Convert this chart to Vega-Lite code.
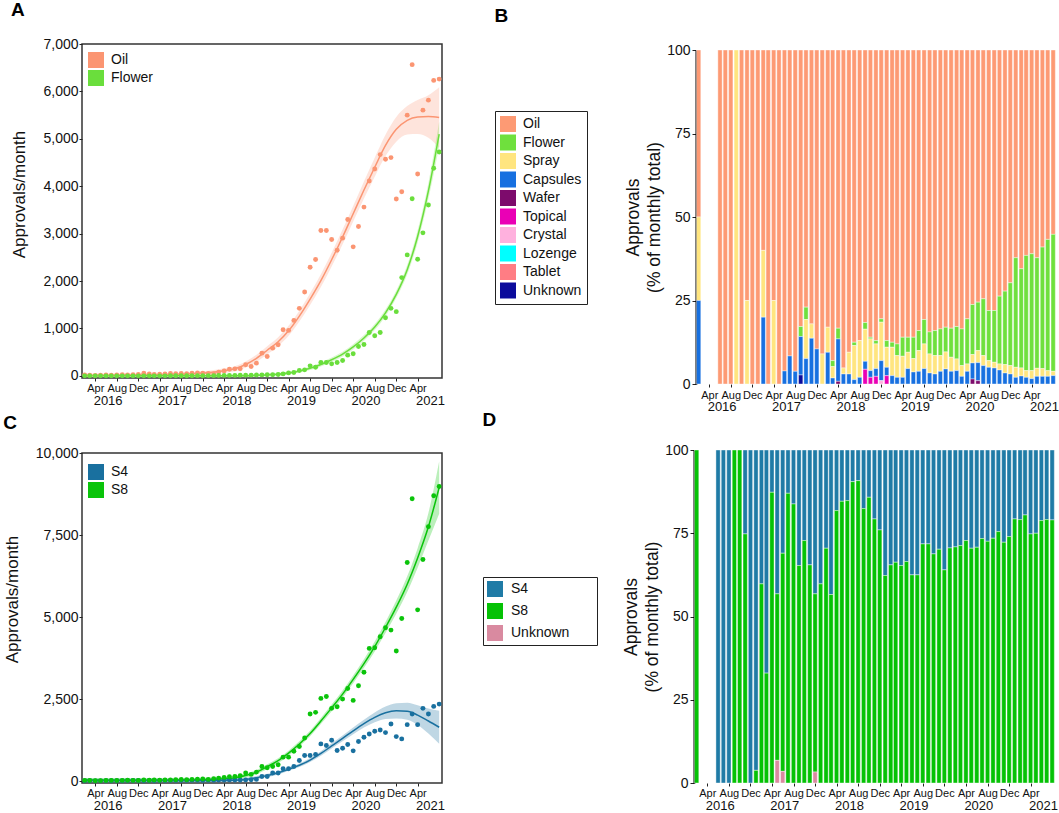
{
"$schema": "https://vega.github.io/schema/vega-lite/v6.json",
"padding": {"left": 2, "top": 0, "right": 0, "bottom": 0},
"config": {
 "font": "Liberation Sans",
 "view": {"stroke": null},
 "axis": {"labelColor": "#111", "titleColor": "#111", "tickColor": "#222", "domainColor": "#000", "grid": false, "titleFontWeight": "normal"},
 "title": {"fontSize": 19, "fontWeight": "bold", "anchor": "start", "frame": "bounds", "color": "#000"},
 "legend": {"labelFontSize": 14, "labelColor": "#111", "symbolType": "square", "symbolSize": 256, "symbolStrokeWidth": 0, "symbolOpacity": 1}
},
"spacing": -3,
"resolve": {"scale": {"color": "independent"}, "legend": {"color": "independent"}},
"datasets": {
"ts": [
{"d":"2016/02/01","Oil":20,"Flower":0,"S4":10,"S8":20},
{"d":"2016/03/01","Oil":15,"Flower":0,"S4":10,"S8":15},
{"d":"2016/04/01","Oil":10,"Flower":0,"S4":5,"S8":10},
{"d":"2016/05/01","Oil":12,"Flower":0,"S4":5,"S8":12},
{"d":"2016/06/01","Oil":18,"Flower":0,"S4":10,"S8":15},
{"d":"2016/07/01","Oil":15,"Flower":0,"S4":10,"S8":20},
{"d":"2016/08/01","Oil":20,"Flower":0,"S4":10,"S8":15},
{"d":"2016/09/01","Oil":22,"Flower":0,"S4":10,"S8":20},
{"d":"2016/10/01","Oil":20,"Flower":0,"S4":15,"S8":25},
{"d":"2016/11/01","Oil":25,"Flower":0,"S4":15,"S8":20},
{"d":"2016/12/01","Oil":30,"Flower":0,"S4":15,"S8":20},
{"d":"2017/01/01","Oil":55,"Flower":0,"S4":10,"S8":30},
{"d":"2017/02/01","Oil":40,"Flower":0,"S4":15,"S8":25},
{"d":"2017/03/01","Oil":30,"Flower":0,"S4":10,"S8":30},
{"d":"2017/04/01","Oil":35,"Flower":0,"S4":15,"S8":25},
{"d":"2017/05/01","Oil":40,"Flower":0,"S4":15,"S8":30},
{"d":"2017/06/01","Oil":50,"Flower":2,"S4":20,"S8":35},
{"d":"2017/07/01","Oil":45,"Flower":2,"S4":20,"S8":40},
{"d":"2017/08/01","Oil":50,"Flower":3,"S4":20,"S8":45},
{"d":"2017/09/01","Oil":45,"Flower":3,"S4":20,"S8":40},
{"d":"2017/10/01","Oil":55,"Flower":3,"S4":25,"S8":50},
{"d":"2017/11/01","Oil":60,"Flower":5,"S4":25,"S8":55},
{"d":"2017/12/01","Oil":55,"Flower":4,"S4":20,"S8":60},
{"d":"2018/01/01","Oil":50,"Flower":5,"S4":25,"S8":50},
{"d":"2018/02/01","Oil":42,"Flower":5,"S4":25,"S8":70},
{"d":"2018/03/01","Oil":79,"Flower":8,"S4":30,"S8":90},
{"d":"2018/04/01","Oil":105,"Flower":10,"S4":30,"S8":110},
{"d":"2018/05/01","Oil":141,"Flower":10,"S4":35,"S8":130},
{"d":"2018/06/01","Oil":148,"Flower":10,"S4":30,"S8":140},
{"d":"2018/07/01","Oil":148,"Flower":12,"S4":30,"S8":161},
{"d":"2018/08/01","Oil":233,"Flower":15,"S4":35,"S8":243},
{"d":"2018/09/01","Oil":197,"Flower":15,"S4":40,"S8":202},
{"d":"2018/10/01","Oil":268,"Flower":18,"S4":50,"S8":273},
{"d":"2018/11/01","Oil":479,"Flower":20,"S4":140,"S8":444},
{"d":"2018/12/01","Oil":409,"Flower":22,"S4":140,"S8":403},
{"d":"2019/01/01","Oil":585,"Flower":25,"S4":243,"S8":444},
{"d":"2019/02/01","Oil":656,"Flower":30,"S4":243,"S8":495},
{"d":"2019/03/01","Oil":973,"Flower":42,"S4":374,"S8":728},
{"d":"2019/04/01","Oil":959,"Flower":63,"S4":374,"S8":728},
{"d":"2019/05/01","Oil":1170,"Flower":71,"S4":444,"S8":910},
{"d":"2019/06/01","Oil":1424,"Flower":113,"S4":626,"S8":1051},
{"d":"2019/07/01","Oil":1770,"Flower":127,"S4":778,"S8":1314},
{"d":"2019/08/01","Oil":2291,"Flower":211,"S4":778,"S8":2043},
{"d":"2019/09/01","Oil":2453,"Flower":183,"S4":808,"S8":2094},
{"d":"2019/10/01","Oil":3067,"Flower":282,"S4":1132,"S8":2519},
{"d":"2019/11/01","Oil":3067,"Flower":282,"S4":1081,"S8":2579},
{"d":"2019/12/01","Oil":2876,"Flower":254,"S4":1243,"S8":2215},
{"d":"2020/01/01","Oil":2651,"Flower":282,"S4":930,"S8":2265},
{"d":"2020/02/01","Oil":2905,"Flower":324,"S4":1001,"S8":2498},
{"d":"2020/03/01","Oil":3299,"Flower":437,"S4":1112,"S8":2822},
{"d":"2020/04/01","Oil":2721,"Flower":465,"S4":920,"S8":2458},
{"d":"2020/05/01","Oil":3151,"Flower":620,"S4":1203,"S8":2903},
{"d":"2020/06/01","Oil":3560,"Flower":662,"S4":1335,"S8":3317},
{"d":"2020/07/01","Oil":4110,"Flower":916,"S4":1436,"S8":4044},
{"d":"2020/08/01","Oil":4364,"Flower":846,"S4":1517,"S8":4065},
{"d":"2020/09/01","Oil":4667,"Flower":916,"S4":1557,"S8":4399},
{"d":"2020/10/01","Oil":4568,"Flower":1227,"S4":1476,"S8":4672},
{"d":"2020/11/01","Oil":4604,"Flower":1424,"S4":1739,"S8":4601},
{"d":"2020/12/01","Oil":3730,"Flower":1354,"S4":1355,"S8":3963},
{"d":"2021/01/01","Oil":3885,"Flower":2073,"S4":1284,"S8":4955},
{"d":"2021/02/01","Oil":5499,"Flower":2552,"S4":1719,"S8":6664},
{"d":"2021/03/01","Oil":6564,"Flower":3737,"S4":2043,"S8":8605},
{"d":"2021/04/01","Oil":4258,"Flower":2461,"S4":1719,"S8":5219},
{"d":"2021/05/01","Oil":5605,"Flower":3017,"S4":2215,"S8":6755},
{"d":"2021/06/01","Oil":5816,"Flower":3603,"S4":2043,"S8":7755},
{"d":"2021/07/01","Oil":6232,"Flower":4378,"S4":2275,"S8":8696},
{"d":"2021/08/01","Oil":6260,"Flower":4723,"S4":2346,"S8":8981}
],
"fit": [
{"d":"2016/02/01","s":"Oil","f":15,"lo":-15,"hi":45},
{"d":"2016/04/01","s":"Oil","f":15,"lo":-15,"hi":45},
{"d":"2016/06/01","s":"Oil","f":15,"lo":-15,"hi":45},
{"d":"2016/08/01","s":"Oil","f":15,"lo":-15,"hi":45},
{"d":"2016/10/01","s":"Oil","f":18,"lo":-12,"hi":48},
{"d":"2016/12/01","s":"Oil","f":20,"lo":-10,"hi":50},
{"d":"2017/02/01","s":"Oil","f":22,"lo":-8,"hi":52},
{"d":"2017/04/01","s":"Oil","f":25,"lo":-5,"hi":55},
{"d":"2017/06/01","s":"Oil","f":30,"lo":0,"hi":60},
{"d":"2017/08/01","s":"Oil","f":35,"lo":5,"hi":65},
{"d":"2017/10/01","s":"Oil","f":45,"lo":10,"hi":80},
{"d":"2017/12/01","s":"Oil","f":60,"lo":20,"hi":100},
{"d":"2018/02/01","s":"Oil","f":80,"lo":35,"hi":125},
{"d":"2018/04/01","s":"Oil","f":110,"lo":60,"hi":160},
{"d":"2018/06/01","s":"Oil","f":150,"lo":95,"hi":205},
{"d":"2018/08/01","s":"Oil","f":240,"lo":175,"hi":305},
{"d":"2018/10/01","s":"Oil","f":370,"lo":295,"hi":445},
{"d":"2018/12/01","s":"Oil","f":540,"lo":455,"hi":625},
{"d":"2019/02/01","s":"Oil","f":720,"lo":625,"hi":815},
{"d":"2019/04/01","s":"Oil","f":950,"lo":845,"hi":1055},
{"d":"2019/06/01","s":"Oil","f":1260,"lo":1145,"hi":1375},
{"d":"2019/08/01","s":"Oil","f":1620,"lo":1495,"hi":1745},
{"d":"2019/10/01","s":"Oil","f":2010,"lo":1875,"hi":2145},
{"d":"2019/12/01","s":"Oil","f":2450,"lo":2305,"hi":2595},
{"d":"2020/02/01","s":"Oil","f":2930,"lo":2775,"hi":3085},
{"d":"2020/04/01","s":"Oil","f":3420,"lo":3255,"hi":3585},
{"d":"2020/06/01","s":"Oil","f":3920,"lo":3740,"hi":4100},
{"d":"2020/08/01","s":"Oil","f":4400,"lo":4200,"hi":4600},
{"d":"2020/10/01","s":"Oil","f":4860,"lo":4635,"hi":5085},
{"d":"2020/12/01","s":"Oil","f":5200,"lo":4940,"hi":5460},
{"d":"2021/02/01","s":"Oil","f":5390,"lo":5090,"hi":5690},
{"d":"2021/04/01","s":"Oil","f":5460,"lo":5100,"hi":5820},
{"d":"2021/06/01","s":"Oil","f":5470,"lo":5020,"hi":5920},
{"d":"2021/08/01","s":"Oil","f":5450,"lo":4810,"hi":6090},
{"d":"2016/02/01","s":"Flower","f":0,"lo":-30,"hi":30},
{"d":"2016/06/01","s":"Flower","f":0,"lo":-30,"hi":30},
{"d":"2016/10/01","s":"Flower","f":0,"lo":-30,"hi":30},
{"d":"2017/02/01","s":"Flower","f":0,"lo":-30,"hi":30},
{"d":"2017/06/01","s":"Flower","f":0,"lo":-30,"hi":30},
{"d":"2017/10/01","s":"Flower","f":0,"lo":-30,"hi":30},
{"d":"2018/02/01","s":"Flower","f":0,"lo":-30,"hi":30},
{"d":"2018/06/01","s":"Flower","f":1,"lo":-29,"hi":31},
{"d":"2018/08/01","s":"Flower","f":2,"lo":-28,"hi":32},
{"d":"2018/10/01","s":"Flower","f":10,"lo":-20,"hi":40},
{"d":"2018/12/01","s":"Flower","f":20,"lo":-10,"hi":50},
{"d":"2019/02/01","s":"Flower","f":35,"lo":5,"hi":65},
{"d":"2019/04/01","s":"Flower","f":60,"lo":30,"hi":90},
{"d":"2019/06/01","s":"Flower","f":100,"lo":70,"hi":130},
{"d":"2019/08/01","s":"Flower","f":160,"lo":125,"hi":195},
{"d":"2019/10/01","s":"Flower","f":240,"lo":200,"hi":280},
{"d":"2019/12/01","s":"Flower","f":340,"lo":295,"hi":385},
{"d":"2020/02/01","s":"Flower","f":460,"lo":410,"hi":510},
{"d":"2020/04/01","s":"Flower","f":610,"lo":555,"hi":665},
{"d":"2020/06/01","s":"Flower","f":800,"lo":740,"hi":860},
{"d":"2020/08/01","s":"Flower","f":1030,"lo":965,"hi":1095},
{"d":"2020/10/01","s":"Flower","f":1330,"lo":1260,"hi":1400},
{"d":"2020/12/01","s":"Flower","f":1720,"lo":1640,"hi":1800},
{"d":"2021/02/01","s":"Flower","f":2240,"lo":2140,"hi":2340},
{"d":"2021/04/01","s":"Flower","f":2940,"lo":2810,"hi":3070},
{"d":"2021/06/01","s":"Flower","f":3900,"lo":3730,"hi":4070},
{"d":"2021/08/01","s":"Flower","f":5100,"lo":4840,"hi":5360},
{"d":"2016/02/01","s":"S8","f":30,"lo":-30,"hi":90},
{"d":"2016/06/01","s":"S8","f":27,"lo":-33,"hi":87},
{"d":"2016/10/01","s":"S8","f":25,"lo":-35,"hi":85},
{"d":"2017/02/01","s":"S8","f":25,"lo":-35,"hi":85},
{"d":"2017/06/01","s":"S8","f":28,"lo":-32,"hi":88},
{"d":"2017/10/01","s":"S8","f":35,"lo":-25,"hi":95},
{"d":"2017/12/01","s":"S8","f":42,"lo":-18,"hi":102},
{"d":"2018/02/01","s":"S8","f":52,"lo":-8,"hi":112},
{"d":"2018/04/01","s":"S8","f":70,"lo":10,"hi":130},
{"d":"2018/06/01","s":"S8","f":100,"lo":40,"hi":160},
{"d":"2018/08/01","s":"S8","f":170,"lo":110,"hi":230},
{"d":"2018/10/01","s":"S8","f":270,"lo":205,"hi":335},
{"d":"2018/12/01","s":"S8","f":440,"lo":370,"hi":510},
{"d":"2019/02/01","s":"S8","f":620,"lo":548,"hi":692},
{"d":"2019/04/01","s":"S8","f":850,"lo":774,"hi":926},
{"d":"2019/06/01","s":"S8","f":1130,"lo":1050,"hi":1210},
{"d":"2019/08/01","s":"S8","f":1450,"lo":1365,"hi":1535},
{"d":"2019/10/01","s":"S8","f":1830,"lo":1740,"hi":1920},
{"d":"2019/12/01","s":"S8","f":2230,"lo":2130,"hi":2330},
{"d":"2020/02/01","s":"S8","f":2650,"lo":2540,"hi":2760},
{"d":"2020/04/01","s":"S8","f":3100,"lo":2980,"hi":3220},
{"d":"2020/06/01","s":"S8","f":3580,"lo":3450,"hi":3710},
{"d":"2020/08/01","s":"S8","f":4100,"lo":3950,"hi":4250},
{"d":"2020/10/01","s":"S8","f":4680,"lo":4510,"hi":4850},
{"d":"2020/12/01","s":"S8","f":5300,"lo":5100,"hi":5500},
{"d":"2021/02/01","s":"S8","f":6000,"lo":5760,"hi":6240},
{"d":"2021/04/01","s":"S8","f":6800,"lo":6500,"hi":7100},
{"d":"2021/06/01","s":"S8","f":7750,"lo":7330,"hi":8170},
{"d":"2021/08/01","s":"S8","f":8950,"lo":8150,"hi":9750},
{"d":"2016/02/01","s":"S4","f":20,"lo":-30,"hi":70},
{"d":"2016/10/01","s":"S4","f":20,"lo":-30,"hi":70},
{"d":"2017/06/01","s":"S4","f":20,"lo":-30,"hi":70},
{"d":"2018/02/01","s":"S4","f":20,"lo":-30,"hi":70},
{"d":"2018/04/01","s":"S4","f":20,"lo":-30,"hi":70},
{"d":"2018/06/01","s":"S4","f":25,"lo":-25,"hi":75},
{"d":"2018/08/01","s":"S4","f":50,"lo":0,"hi":100},
{"d":"2018/10/01","s":"S4","f":100,"lo":50,"hi":150},
{"d":"2018/12/01","s":"S4","f":170,"lo":120,"hi":220},
{"d":"2019/02/01","s":"S4","f":250,"lo":200,"hi":300},
{"d":"2019/04/01","s":"S4","f":360,"lo":310,"hi":410},
{"d":"2019/06/01","s":"S4","f":480,"lo":425,"hi":535},
{"d":"2019/08/01","s":"S4","f":640,"lo":578,"hi":702},
{"d":"2019/10/01","s":"S4","f":840,"lo":770,"hi":910},
{"d":"2019/12/01","s":"S4","f":1070,"lo":990,"hi":1150},
{"d":"2020/02/01","s":"S4","f":1300,"lo":1210,"hi":1390},
{"d":"2020/04/01","s":"S4","f":1530,"lo":1425,"hi":1635},
{"d":"2020/06/01","s":"S4","f":1750,"lo":1630,"hi":1870},
{"d":"2020/08/01","s":"S4","f":1940,"lo":1790,"hi":2090},
{"d":"2020/10/01","s":"S4","f":2080,"lo":1890,"hi":2270},
{"d":"2020/12/01","s":"S4","f":2140,"lo":1910,"hi":2370},
{"d":"2021/02/01","s":"S4","f":2130,"lo":1870,"hi":2390},
{"d":"2021/04/01","s":"S4","f":2010,"lo":1710,"hi":2310},
{"d":"2021/06/01","s":"S4","f":1830,"lo":1450,"hi":2210},
{"d":"2021/08/01","s":"S4","f":1640,"lo":1140,"hi":2140}
],
"pB": [
{"d":"2016/02/01","Capsules":25,"Spray":25,"Oil":50},
{"d":"2016/06/01","Oil":100},
{"d":"2016/07/01","Oil":100},
{"d":"2016/08/01","Oil":100},
{"d":"2016/09/01","Spray":100},
{"d":"2016/10/01","Oil":100},
{"d":"2016/11/01","Spray":25,"Oil":75},
{"d":"2016/12/01","Oil":100},
{"d":"2017/01/01","Oil":100},
{"d":"2017/02/01","Capsules":20,"Spray":20,"Oil":60},
{"d":"2017/03/01","Oil":100},
{"d":"2017/04/01","Spray":25,"Oil":75},
{"d":"2017/05/01","Oil":100},
{"d":"2017/06/01","Capsules":3.9,"Oil":96.1},
{"d":"2017/07/01","Capsules":8.4,"Oil":91.6},
{"d":"2017/08/01","Capsules":3.8,"Oil":96.2},
{"d":"2017/09/01","Unknown":2.7,"Capsules":11.5,"Flower":3,"Oil":82.8},
{"d":"2017/10/01","Capsules":7.6,"Spray":11.7,"Flower":3.7,"Oil":77},
{"d":"2017/11/01","Capsules":13.7,"Spray":4.3,"Oil":82},
{"d":"2017/12/01","Capsules":10.5,"Oil":89.5},
{"d":"2018/01/01","Spray":9,"Oil":91},
{"d":"2018/02/01","Capsules":9.5,"Spray":7.5,"Oil":83},
{"d":"2018/03/01","Capsules":1.8,"Spray":3.4,"Flower":1.8,"Oil":93},
{"d":"2018/04/01","Wafer":0.8,"Capsules":12.7,"Flower":3.2,"Oil":83.3},
{"d":"2018/05/01","Capsules":3,"Spray":1.8,"Oil":95.2},
{"d":"2018/06/01","Capsules":3,"Spray":6.5,"Oil":90.5},
{"d":"2018/07/01","Capsules":1.3,"Spray":10.2,"Flower":1,"Oil":87.5},
{"d":"2018/08/01","Capsules":2,"Spray":11,"Oil":87},
{"d":"2018/09/01","Topical":4.4,"Capsules":2.4,"Spray":9.6,"Flower":2,"Oil":81.6},
{"d":"2018/10/01","Topical":2,"Capsules":2,"Spray":9.5,"Flower":0.5,"Oil":86},
{"d":"2018/11/01","Topical":2.3,"Capsules":2.3,"Spray":7.4,"Flower":1,"Oil":87},
{"d":"2018/12/01","Crystal":1,"Capsules":6,"Spray":11.5,"Flower":1,"Oil":80.5},
{"d":"2019/01/01","Topical":2.5,"Capsules":2.5,"Spray":6,"Flower":2,"Oil":87},
{"d":"2019/02/01","Capsules":2.5,"Spray":8.5,"Flower":1.5,"Oil":87.5},
{"d":"2019/03/01","Capsules":2,"Spray":6.5,"Flower":3.5,"Oil":88},
{"d":"2019/04/01","Capsules":2,"Spray":6.3,"Flower":5.7,"Oil":86},
{"d":"2019/05/01","Capsules":4.6,"Spray":4.9,"Flower":4.5,"Oil":86},
{"d":"2019/06/01","Capsules":3.6,"Spray":4,"Flower":6.4,"Oil":86},
{"d":"2019/07/01","Capsules":3.8,"Spray":6.2,"Flower":6,"Oil":84},
{"d":"2019/08/01","Capsules":4.6,"Spray":7.4,"Flower":7.3,"Oil":80.7},
{"d":"2019/09/01","Capsules":3.3,"Spray":5.7,"Flower":6.6,"Oil":84.4},
{"d":"2019/10/01","Capsules":3,"Spray":5.5,"Flower":7.5,"Oil":84},
{"d":"2019/11/01","Capsules":3.8,"Spray":4.7,"Flower":8,"Oil":83.5},
{"d":"2019/12/01","Capsules":4.5,"Spray":5.1,"Flower":7.4,"Oil":83},
{"d":"2020/01/01","Capsules":3.8,"Spray":4.2,"Flower":8.7,"Oil":83.3},
{"d":"2020/02/01","Capsules":4,"Spray":3.5,"Flower":9.7,"Oil":82.8},
{"d":"2020/03/01","Capsules":2.3,"Spray":3.2,"Flower":11,"Oil":83.5},
{"d":"2020/04/01","Capsules":3.8,"Spray":2.2,"Flower":13.5,"Oil":80.5},
{"d":"2020/05/01","Wafer":1.5,"Capsules":4.8,"Spray":2.5,"Flower":15,"Oil":76.2},
{"d":"2020/06/01","Wafer":1,"Capsules":5.4,"Spray":3.6,"Flower":14.5,"Oil":75.5},
{"d":"2020/07/01","Capsules":5.5,"Spray":3,"Flower":17,"Oil":74.5},
{"d":"2020/08/01","Capsules":5,"Spray":2,"Flower":15,"Oil":78},
{"d":"2020/09/01","Capsules":4.8,"Spray":1.7,"Flower":15.5,"Oil":78},
{"d":"2020/10/01","Capsules":4.2,"Spray":1.8,"Flower":20.3,"Oil":73.7},
{"d":"2020/11/01","Capsules":3.3,"Spray":2.5,"Flower":22,"Oil":72.2},
{"d":"2020/12/01","Capsules":3,"Spray":2.5,"Flower":24.8,"Oil":69.7},
{"d":"2021/01/01","Capsules":2,"Spray":3,"Flower":32.8,"Oil":62.2},
{"d":"2021/02/01","Capsules":2.4,"Spray":2.4,"Flower":29.7,"Oil":65.5},
{"d":"2021/03/01","Capsules":2,"Spray":2,"Flower":34.5,"Oil":61.5},
{"d":"2021/04/01","Capsules":1.6,"Spray":2.4,"Flower":35,"Oil":61},
{"d":"2021/05/01","Capsules":2.3,"Spray":2.4,"Flower":33.1,"Oil":62.2},
{"d":"2021/06/01","Capsules":2.3,"Spray":2.3,"Flower":36.4,"Oil":59},
{"d":"2021/07/01","Capsules":2.3,"Spray":1.7,"Flower":39.3,"Oil":56.7},
{"d":"2021/08/01","Capsules":2.5,"Spray":1.3,"Flower":41,"Oil":55.2}
],
"pD": [
{"d":"2016/02/01","S8":100},
{"d":"2016/06/01","S4":100},
{"d":"2016/07/01","S4":100},
{"d":"2016/08/01","S4":100},
{"d":"2016/09/01","S8":100},
{"d":"2016/10/01","S8":100},
{"d":"2016/11/01","S8":74.8,"S4":25.2},
{"d":"2016/12/01","S4":100},
{"d":"2017/01/01","S8":3.8,"S4":96.2},
{"d":"2017/02/01","S8":59.8,"S4":40.2},
{"d":"2017/03/01","S8":33,"S4":67},
{"d":"2017/04/01","S8":87.3,"S4":12.7},
{"d":"2017/05/01","Unknown":6.8,"S8":50,"S4":43.2},
{"d":"2017/06/01","Unknown":3.5,"S8":65.5,"S4":31},
{"d":"2017/07/01","S8":87,"S4":13},
{"d":"2017/08/01","S8":83.8,"S4":16.2},
{"d":"2017/09/01","S8":65.3,"S4":34.7},
{"d":"2017/10/01","S8":72.8,"S4":27.2},
{"d":"2017/11/01","S8":65.5,"S4":34.5},
{"d":"2017/12/01","Unknown":3.3,"S8":53.5,"S4":43.2},
{"d":"2018/01/01","S8":59.8,"S4":40.2},
{"d":"2018/02/01","S8":70.5,"S4":29.5},
{"d":"2018/03/01","S8":56.6,"S4":43.4},
{"d":"2018/04/01","S8":81.8,"S4":18.2},
{"d":"2018/05/01","S8":84.6,"S4":15.4},
{"d":"2018/06/01","S8":84.8,"S4":15.2},
{"d":"2018/07/01","S8":90.5,"S4":9.5},
{"d":"2018/08/01","S8":90.8,"S4":9.2},
{"d":"2018/09/01","S8":82.4,"S4":17.6},
{"d":"2018/10/01","S8":85.8,"S4":14.2},
{"d":"2018/11/01","S8":79.3,"S4":20.7},
{"d":"2018/12/01","S8":76,"S4":24},
{"d":"2019/01/01","S8":62.3,"S4":37.7},
{"d":"2019/02/01","S8":65.5,"S4":34.5},
{"d":"2019/03/01","S8":66.3,"S4":33.7},
{"d":"2019/04/01","S8":65.3,"S4":34.7},
{"d":"2019/05/01","S8":66.5,"S4":33.5},
{"d":"2019/06/01","S8":62.5,"S4":37.5},
{"d":"2019/07/01","S8":62.5,"S4":37.5},
{"d":"2019/08/01","S8":71.8,"S4":28.2},
{"d":"2019/09/01","S8":71.8,"S4":28.2},
{"d":"2019/10/01","S8":68.8,"S4":31.2},
{"d":"2019/11/01","S8":70.2,"S4":29.8},
{"d":"2019/12/01","S8":64,"S4":36},
{"d":"2020/01/01","S8":70.6,"S4":29.4},
{"d":"2020/02/01","S8":70.9,"S4":29.1},
{"d":"2020/03/01","S8":71.3,"S4":28.7},
{"d":"2020/04/01","S8":72.8,"S4":27.2},
{"d":"2020/05/01","S8":70.5,"S4":29.5},
{"d":"2020/06/01","S8":70.8,"S4":29.2},
{"d":"2020/07/01","S8":73.4,"S4":26.6},
{"d":"2020/08/01","S8":72.6,"S4":27.4},
{"d":"2020/09/01","S8":73.5,"S4":26.5},
{"d":"2020/10/01","S8":75.5,"S4":24.5},
{"d":"2020/11/01","S8":72.3,"S4":27.7},
{"d":"2020/12/01","S8":74,"S4":26},
{"d":"2021/01/01","S8":79.3,"S4":20.7},
{"d":"2021/02/01","S8":79.1,"S4":20.9},
{"d":"2021/03/01","S8":80.5,"S4":19.5},
{"d":"2021/04/01","S8":74.8,"S4":25.2},
{"d":"2021/05/01","S8":75,"S4":25},
{"d":"2021/06/01","S8":78.8,"S4":21.2},
{"d":"2021/07/01","S8":79.1,"S4":20.9},
{"d":"2021/08/01","S8":79,"S4":21}
]
},
"vconcat": [
{"hconcat": [
 {
  "width": 360, "height": 334,
  "title": {"text": "A", "offset": 17},
  "view": {"stroke": "#333", "strokeWidth": 1.5},
  "layer": [
   {"data": {"name": "fit"}, "transform": [{"filter": {"field": "s", "oneOf": ["Oil", "Flower"]}}],
    "mark": {"type": "area", "opacity": 0.25, "interpolate": "monotone", "clip": true},
    "encoding": {
     "x": {"field": "d", "type": "temporal", "scale": {"domain": [{"year": 2016, "month": 1, "date": 17}, {"year": 2021, "month": 8, "date": 17}], "nice": false, "padding": 0},
       "axis": {"values": [{"year":2016,"month":4,"date":1},{"year":2016,"month":8,"date":1},{"year":2016,"month":12,"date":1},{"year":2017,"month":4,"date":1},{"year":2017,"month":8,"date":1},{"year":2017,"month":12,"date":1},{"year":2018,"month":4,"date":1},{"year":2018,"month":8,"date":1},{"year":2018,"month":12,"date":1},{"year":2019,"month":4,"date":1},{"year":2019,"month":8,"date":1},{"year":2019,"month":12,"date":1},{"year":2020,"month":4,"date":1},{"year":2020,"month":8,"date":1},{"year":2020,"month":12,"date":1},{"year":2021,"month":4,"date":1}], "format": "%b", "labelFontSize": 11, "tickSize": 3, "labelPadding": 1.5, "domain": false, "title": null, "labelOverlap": false, "labelFlush": false}},
     "y": {"field": "lo", "type": "quantitative", "scale": {"domain": [-45, 7000], "nice": false},
       "axis": {"values": [0,1000,2000,3000,4000,5000,6000,7000], "format": ",d", "title": "Approvals/month", "titleFontSize": 17, "labelFontSize": 14, "tickSize": 3, "labelPadding": 1, "titlePadding": 14, "domain": false, "titleY": 150}},
     "y2": {"field": "hi"},
     "color": {"field": "s", "type": "nominal", "scale": {"domain": ["Oil", "Flower"], "range": ["#fb9572", "#6ade3c"]},
       "legend": {"orient": "none", "legendX": 6, "legendY": 8, "title": null, "padding": 0, "rowPadding": 2, "labelOffset": 7}}
    }},
   {"data": {"name": "fit"}, "transform": [{"filter": {"field": "s", "oneOf": ["Oil", "Flower"]}}],
    "mark": {"type": "line", "strokeWidth": 1.5, "interpolate": "monotone", "clip": true},
    "encoding": {"x": {"field": "d", "type": "temporal", "axis": null}, "y": {"field": "f", "type": "quantitative"}, "color": {"field": "s", "type": "nominal"}}},
   {"data": {"name": "ts"}, "transform": [{"fold": ["Oil", "Flower"], "as": ["s", "v"]}],
    "mark": {"type": "circle", "size": 24, "opacity": 1},
    "encoding": {"x": {"field": "d", "type": "temporal", "axis": null}, "y": {"field": "v", "type": "quantitative"}, "color": {"field": "s", "type": "nominal"}}},
   {"data": {"name": "ts"},
    "mark": {"type": "point", "opacity": 0},
    "encoding": {"x": {"field": "d", "type": "temporal",
      "axis": {"orient": "bottom", "values": [{"year":2016,"month":6,"date":10},{"year":2017,"month":6,"date":10},{"year":2018,"month":6,"date":10},{"year":2019,"month":6,"date":10},{"year":2020,"month":6,"date":10},{"year":2021,"month":6,"date":10}], "format": "%Y", "labelFontSize": 13, "ticks": false, "tickSize": 0, "labelPadding": 16.5, "domain": false, "title": null, "labelOverlap": false, "labelFlush": false}}}}
  ],
  "resolve": {"axis": {"x": "independent"}}
 },
 {
  "width": 360, "height": 340,
  "title": {"text": "B", "offset": 17},
  "layer": [
   {"data": {"name": "pB"},
    "transform": [{"fold": ["Oil","Flower","Spray","Capsules","Wafer","Topical","Crystal","Lozenge","Tablet","Unknown"], "as": ["k", "v"]}, {"filter": "datum.v > 0"}, {"calculate": "indexof(['Oil','Flower','Spray','Capsules','Wafer','Topical','Crystal','Lozenge','Tablet','Unknown'], datum.k)", "as": "o"}],
    "mark": {"type": "bar", "size": 4.3, "stroke": "white", "strokeWidth": 0.4},
    "encoding": {
     "x": {"field": "d", "type": "temporal", "scale": {"domain": [{"year": 2016, "month": 1, "date": 17}, {"year": 2021, "month": 8, "date": 17}], "nice": false, "padding": 0},
       "axis": {"values": [{"year":2016,"month":4,"date":1},{"year":2016,"month":8,"date":1},{"year":2016,"month":12,"date":1},{"year":2017,"month":4,"date":1},{"year":2017,"month":8,"date":1},{"year":2017,"month":12,"date":1},{"year":2018,"month":4,"date":1},{"year":2018,"month":8,"date":1},{"year":2018,"month":12,"date":1},{"year":2019,"month":4,"date":1},{"year":2019,"month":8,"date":1},{"year":2019,"month":12,"date":1},{"year":2020,"month":4,"date":1},{"year":2020,"month":8,"date":1},{"year":2020,"month":12,"date":1},{"year":2021,"month":4,"date":1}], "format": "%b", "labelFontSize": 11, "tickSize": 3, "labelPadding": 2, "domain": false, "title": null, "labelOverlap": false, "labelFlush": false}},
     "y": {"field": "v", "type": "quantitative", "stack": "zero", "scale": {"domain": [0, 100], "nice": false, "range": [340, 6]},
       "axis": {"values": [0,25,50,75,100], "title": ["Approvals", "(% of monthly total)"], "titleFontSize": 17.5, "titleLineHeight": 21, "labelFontSize": 14, "tickSize": 4, "labelPadding": 2, "titlePadding": 3, "domain": true, "domainWidth": 2, "domainColor": "#000"}},
     "color": {"field": "k", "type": "nominal", "scale": {"domain": ["Oil","Flower","Spray","Capsules","Wafer","Topical","Crystal","Lozenge","Tablet","Unknown"], "range": ["#fd9a74","#6fe03d","#ffe57f","#1770e0","#7d0b6c","#ea00b5","#ffb1de","#00ffff","#ff7d84","#0b0b9c"]},
       "legend": {"orient": "none", "legendX": -201, "legendY": 67, "title": null, "strokeColor": "#222", "padding": 5, "rowPadding": 2.5, "labelOffset": 7}},
     "order": {"field": "o", "sort": "descending"}
    }},
   {"mark": {"type": "rule", "strokeDash": [6, 4], "strokeWidth": 1.2, "color": "#000"}, "encoding": {"y": {"datum": 50}}},
   {"data": {"name": "pB"}, "mark": {"type": "point", "opacity": 0},
    "encoding": {"x": {"field": "d", "type": "temporal",
      "axis": {"orient": "bottom", "values": [{"year":2016,"month":6,"date":10},{"year":2017,"month":6,"date":10},{"year":2018,"month":6,"date":10},{"year":2019,"month":6,"date":10},{"year":2020,"month":6,"date":10},{"year":2021,"month":6,"date":10}], "format": "%Y", "labelFontSize": 13, "ticks": false, "tickSize": 0, "labelPadding": 16.5, "domain": false, "title": null, "labelOverlap": false, "labelFlush": false}}}}
  ],
  "resolve": {"axis": {"x": "independent"}}
 }
], "spacing": 48, "resolve": {"scale": {"color": "independent"}, "legend": {"color": "independent"}}},
{"hconcat": [
 {
  "width": 360, "height": 330,
  "title": {"text": "C", "offset": 13},
  "view": {"stroke": "#333", "strokeWidth": 1.5},
  "layer": [
   {"data": {"name": "fit"}, "transform": [{"filter": {"field": "s", "oneOf": ["S4", "S8"]}}],
    "mark": {"type": "area", "opacity": 0.28, "interpolate": "monotone", "clip": true},
    "encoding": {
     "x": {"field": "d", "type": "temporal", "scale": {"domain": [{"year": 2016, "month": 1, "date": 17}, {"year": 2021, "month": 8, "date": 17}], "nice": false, "padding": 0},
       "axis": {"values": [{"year":2016,"month":4,"date":1},{"year":2016,"month":8,"date":1},{"year":2016,"month":12,"date":1},{"year":2017,"month":4,"date":1},{"year":2017,"month":8,"date":1},{"year":2017,"month":12,"date":1},{"year":2018,"month":4,"date":1},{"year":2018,"month":8,"date":1},{"year":2018,"month":12,"date":1},{"year":2019,"month":4,"date":1},{"year":2019,"month":8,"date":1},{"year":2019,"month":12,"date":1},{"year":2020,"month":4,"date":1},{"year":2020,"month":8,"date":1},{"year":2020,"month":12,"date":1},{"year":2021,"month":4,"date":1}], "format": "%b", "labelFontSize": 11, "tickSize": 3, "labelPadding": 1.5, "domain": false, "title": null, "labelOverlap": false, "labelFlush": false}},
     "y": {"field": "lo", "type": "quantitative", "scale": {"domain": [-60, 10000], "nice": false},
       "axis": {"values": [0,2500,5000,7500,10000], "format": ",d", "title": "Approvals/month", "titleFontSize": 17, "labelFontSize": 14, "tickSize": 3, "labelPadding": 1, "titlePadding": 14, "domain": false, "titleY": 146}},
     "y2": {"field": "hi"},
     "color": {"field": "s", "type": "nominal", "scale": {"domain": ["S4", "S8"], "range": ["#19709f", "#0ac40a"]},
       "legend": {"orient": "none", "legendX": 6, "legendY": 11, "title": null, "padding": 0, "rowPadding": 2, "labelOffset": 7}}
    }},
   {"data": {"name": "fit"}, "transform": [{"filter": {"field": "s", "oneOf": ["S4", "S8"]}}],
    "mark": {"type": "line", "strokeWidth": 1.5, "interpolate": "monotone", "clip": true},
    "encoding": {"x": {"field": "d", "type": "temporal", "axis": null}, "y": {"field": "f", "type": "quantitative"}, "color": {"field": "s", "type": "nominal"}}},
   {"data": {"name": "ts"}, "transform": [{"fold": ["S4", "S8"], "as": ["s", "v"]}],
    "mark": {"type": "circle", "size": 24, "opacity": 1},
    "encoding": {"x": {"field": "d", "type": "temporal", "axis": null}, "y": {"field": "v", "type": "quantitative"}, "color": {"field": "s", "type": "nominal"}}},
   {"data": {"name": "ts"},
    "mark": {"type": "point", "opacity": 0},
    "encoding": {"x": {"field": "d", "type": "temporal",
      "axis": {"orient": "bottom", "values": [{"year":2016,"month":6,"date":10},{"year":2017,"month":6,"date":10},{"year":2018,"month":6,"date":10},{"year":2019,"month":6,"date":10},{"year":2020,"month":6,"date":10},{"year":2021,"month":6,"date":10}], "format": "%Y", "labelFontSize": 13, "ticks": false, "tickSize": 0, "labelPadding": 16, "domain": false, "title": null, "labelOverlap": false, "labelFlush": false}}}}
  ],
  "resolve": {"axis": {"x": "independent"}}
 },
 {
  "width": 361, "height": 330,
  "title": {"text": "D", "offset": 13},
  "layer": [
   {"data": {"name": "pD"},
    "transform": [{"fold": ["S4","S8","Unknown"], "as": ["k", "v"]}, {"filter": "datum.v > 0"}, {"calculate": "indexof(['S4','S8','Unknown'], datum.k)", "as": "o"}],
    "mark": {"type": "bar", "size": 4.3, "stroke": "white", "strokeWidth": 0.4},
    "encoding": {
     "x": {"field": "d", "type": "temporal", "scale": {"domain": [{"year": 2016, "month": 1, "date": 17}, {"year": 2021, "month": 8, "date": 17}], "nice": false, "padding": 0},
       "axis": {"values": [{"year":2016,"month":4,"date":1},{"year":2016,"month":8,"date":1},{"year":2016,"month":12,"date":1},{"year":2017,"month":4,"date":1},{"year":2017,"month":8,"date":1},{"year":2017,"month":12,"date":1},{"year":2018,"month":4,"date":1},{"year":2018,"month":8,"date":1},{"year":2018,"month":12,"date":1},{"year":2019,"month":4,"date":1},{"year":2019,"month":8,"date":1},{"year":2019,"month":12,"date":1},{"year":2020,"month":4,"date":1},{"year":2020,"month":8,"date":1},{"year":2020,"month":12,"date":1},{"year":2021,"month":4,"date":1}], "format": "%b", "labelFontSize": 11, "tickSize": 3, "labelPadding": 1.5, "domain": false, "title": null, "labelOverlap": false, "labelFlush": false}},
     "y": {"field": "v", "type": "quantitative", "stack": "zero", "scale": {"domain": [0, 100], "nice": false, "range": [330, -3]},
       "axis": {"values": [0,25,50,75,100], "title": ["Approvals", "(% of monthly total)"], "titleFontSize": 17.5, "titleLineHeight": 21, "labelFontSize": 14, "tickSize": 4, "labelPadding": 2, "titlePadding": 3, "domain": true, "domainWidth": 2, "domainColor": "#000"}},
     "color": {"field": "k", "type": "nominal", "scale": {"domain": ["S4","S8","Unknown"], "range": ["#1f7ba6","#05c205","#d98aa0"]},
       "legend": {"orient": "none", "legendX": -211, "legendY": 124, "title": "MM", "titleOrient": "right", "titleFontSize": 14, "titleOpacity": 0, "titlePadding": 0, "strokeColor": "#222", "padding": 4, "rowPadding": 6, "labelOffset": 8}},
     "order": {"field": "o", "sort": "descending"}
    }},
   {"mark": {"type": "rule", "strokeDash": [6, 4], "strokeWidth": 1.2, "color": "#000"}, "encoding": {"y": {"datum": 50}}},
   {"data": {"name": "pD"}, "mark": {"type": "point", "opacity": 0},
    "encoding": {"x": {"field": "d", "type": "temporal",
      "axis": {"orient": "bottom", "values": [{"year":2016,"month":6,"date":10},{"year":2017,"month":6,"date":10},{"year":2018,"month":6,"date":10},{"year":2019,"month":6,"date":10},{"year":2020,"month":6,"date":10},{"year":2021,"month":6,"date":10}], "format": "%Y", "labelFontSize": 13, "ticks": false, "tickSize": 0, "labelPadding": 16, "domain": false, "title": null, "labelOverlap": false, "labelFlush": false}}}}
  ],
  "resolve": {"axis": {"x": "independent"}}
 }
], "spacing": 36, "resolve": {"scale": {"color": "independent"}, "legend": {"color": "independent"}}}
]
}
